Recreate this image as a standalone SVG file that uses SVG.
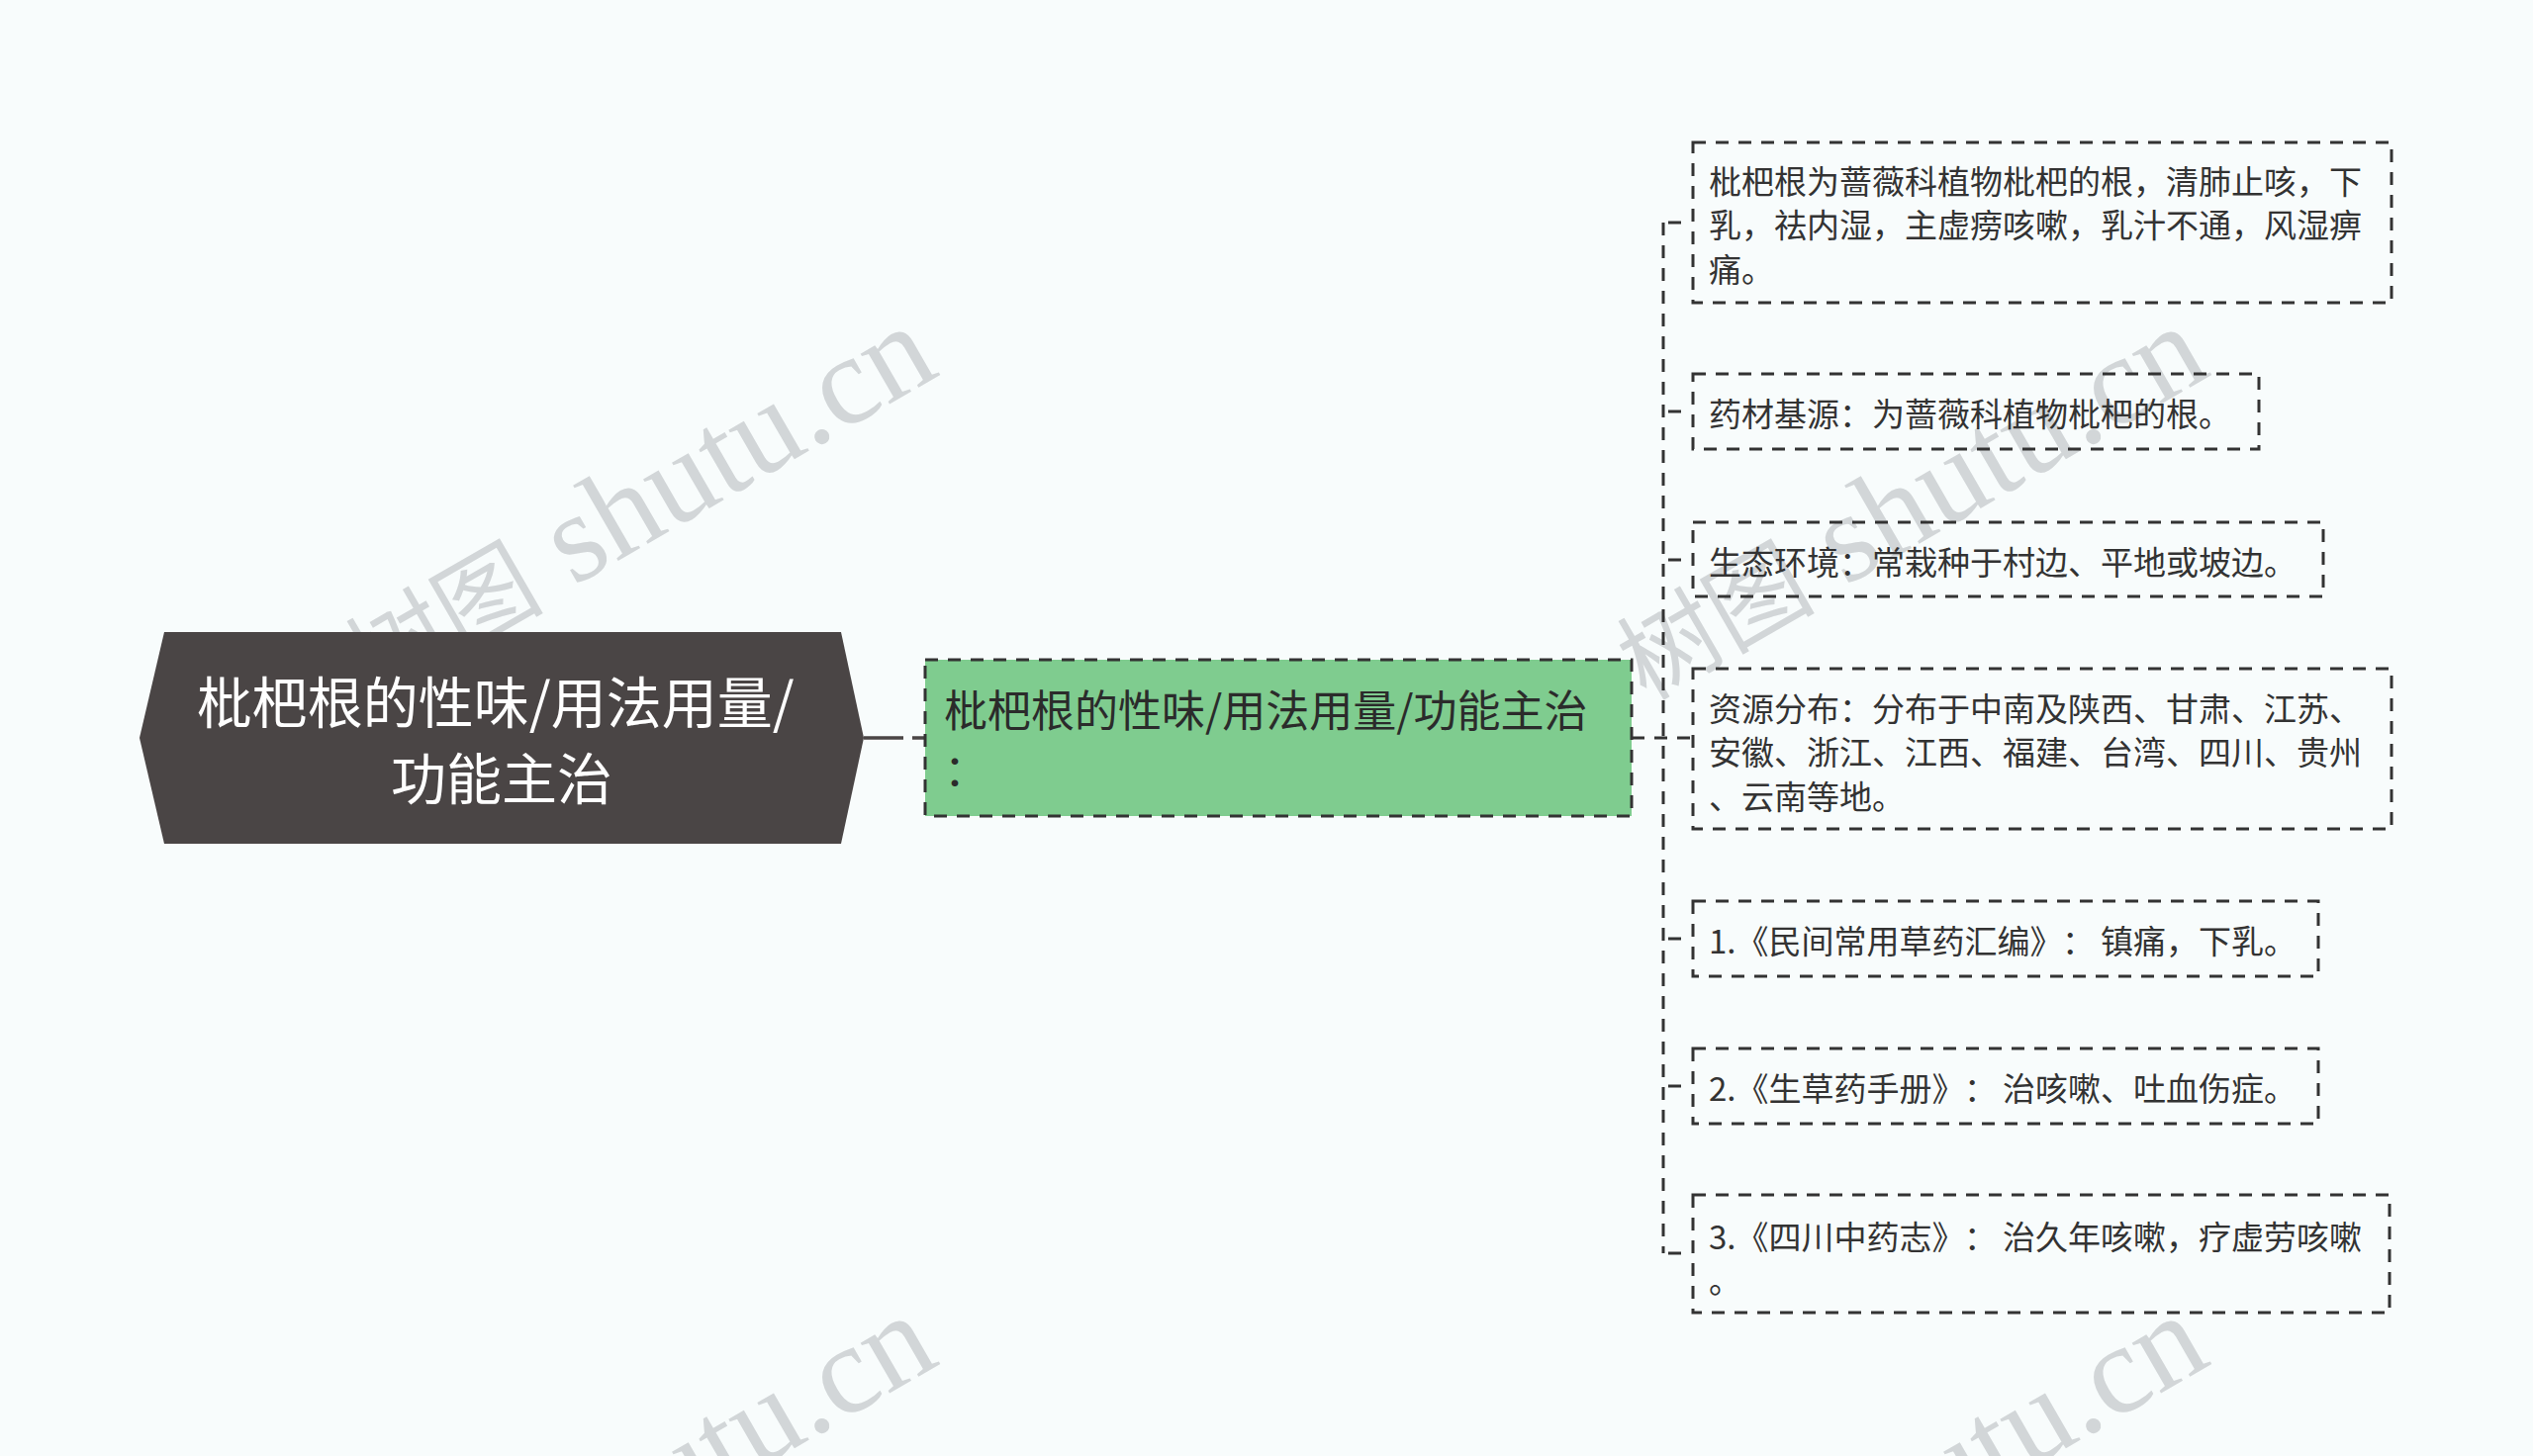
<svg xmlns="http://www.w3.org/2000/svg" width="2560" height="1472" viewBox="0 0 2560 1472">
<style>
.wm { font-family: "Liberation Serif", "Noto Sans CJK SC", serif; font-size: 128px; fill: #d2d6d8; }
.wmc { font-family: "Noto Sans CJK SC", serif; font-size: 100px; }
.box { fill: none; stroke: #333333; stroke-width: 3; stroke-dasharray: 13 10; }
.t { font-family: "Noto Sans CJK SC", "Noto Sans", sans-serif; font-size: 33px; fill: #333333; }
.dash { fill: none; stroke: #333333; stroke-width: 3; stroke-dasharray: 13 10; }
.solid { fill: none; stroke: #333333; stroke-width: 3; }
</style>
<rect width="2560" height="1472" fill="#f8fcfc"/>
<g id="watermarks">
  <text class="wm" text-anchor="end" transform="translate(952 378) rotate(-30)"><tspan class="wmc">树图</tspan> shutu.cn</text>
  <text class="wm" text-anchor="end" transform="translate(2237 378) rotate(-30)"><tspan class="wmc">树图</tspan> shutu.cn</text>
  <text class="wm" text-anchor="end" transform="translate(952 1378) rotate(-30)"><tspan class="wmc">树图</tspan> shutu.cn</text>
  <text class="wm" text-anchor="end" transform="translate(2237 1378) rotate(-30)"><tspan class="wmc">树图</tspan> shutu.cn</text>
</g>
<g id="connectors">
  <path d="M873 746 H913" stroke="#4a4545" stroke-width="3.5" fill="none"/>
  <path d="M922 746 H934" stroke="#4a4545" stroke-width="3.5" fill="none"/>
  <path class="dash" d="M1649 746 H1710"/>
  <path class="dash" d="M1681 225 V1267"/>
  <path class="solid" d="M1686 225 H1699"/>
  <path class="solid" d="M1686 416 H1699"/>
  <path class="solid" d="M1686 566 H1699"/>
  <path class="solid" d="M1686 949 H1699"/>
  <path class="solid" d="M1686 1098 H1699"/>
  <path class="solid" d="M1686 1267 H1699"/>
</g>
<g id="root">
  <polygon points="141,746 166,639 850,639 873,746 850,853 166,853" fill="#4a4545"/>
  <text font-family="Noto Sans CJK SC, sans-serif" font-size="56" fill="#ffffff" text-anchor="middle">
    <tspan x="507" y="731">枇杷根的性味/用法用量/</tspan>
    <tspan x="507" y="808">功能主治</tspan>
  </text>
</g>
<g id="main">
  <rect x="935" y="667" width="714" height="158" fill="#7fcc8f" stroke="#333333" stroke-width="3" stroke-dasharray="13 10"/>
  <text font-family="Noto Sans CJK SC, sans-serif" font-size="44" fill="#2b2b2b">
    <tspan x="954" y="735">枇杷根的性味/用法用量/功能主治</tspan>
    <tspan x="954" y="795">：</tspan>
  </text>
</g>
<g id="c1">
  <rect class="box" x="1711" y="144" width="706" height="162"/>
  <text class="t">
    <tspan x="1727" y="196">枇杷根为蔷薇科植物枇杷的根，清肺止咳，下</tspan>
    <tspan x="1727" y="240">乳，祛内湿，主虚痨咳嗽，乳汁不通，风湿痹</tspan>
    <tspan x="1727" y="285">痛。</tspan>
  </text>
</g>
<g id="c2">
  <rect class="box" x="1711" y="378" width="572" height="76"/>
  <text class="t" x="1727" y="431">药材基源：为蔷薇科植物枇杷的根。</text>
</g>
<g id="c3">
  <rect class="box" x="1711" y="528" width="637" height="75"/>
  <text class="t" x="1727" y="581">生态环境：常栽种于村边、平地或坡边。</text>
</g>
<g id="c4">
  <rect class="box" x="1711" y="676" width="706" height="162"/>
  <text class="t">
    <tspan x="1727" y="729">资源分布：分布于中南及陕西、甘肃、江苏、</tspan>
    <tspan x="1727" y="773">安徽、浙江、江西、福建、台湾、四川、贵州</tspan>
    <tspan x="1727" y="818">、云南等地。</tspan>
  </text>
</g>
<g id="c5">
  <rect class="box" x="1711" y="911" width="632" height="76"/>
  <text class="t" x="1727" y="964">1.《民间常用草药汇编》<tspan dx="16">：</tspan><tspan dx="6">镇痛，下乳。</tspan></text>
</g>
<g id="c6">
  <rect class="box" x="1711" y="1060" width="632" height="76"/>
  <text class="t" x="1727" y="1113">2.《生草药手册》<tspan dx="16">：</tspan><tspan dx="6">治咳嗽、吐血伤症。</tspan></text>
</g>
<g id="c7">
  <rect class="box" x="1711" y="1208" width="704" height="119"/>
  <text class="t">
    <tspan x="1727" y="1263">3.《四川中药志》</tspan><tspan dx="16">：</tspan><tspan dx="6">治久年咳嗽，疗虚劳咳嗽</tspan>
    <tspan x="1727" y="1307">。</tspan>
  </text>
</g>
</svg>
